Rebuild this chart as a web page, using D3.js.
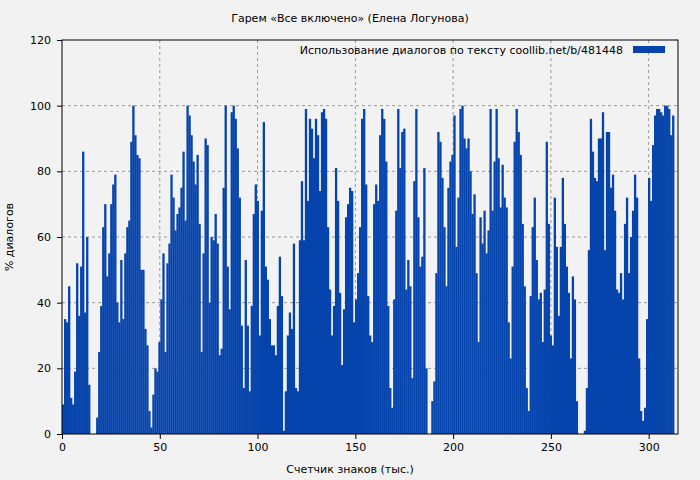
<!DOCTYPE html>
<html><head><meta charset="utf-8">
<script src="https://cdn.jsdelivr.net/npm/d3@7"></script>
<style>body{margin:0;background:#f2f2f2}text{font-family:"DejaVu Sans",sans-serif}</style>
</head><body><div id="chart"></div>
<script>
// % of dialogue per thousand characters
const part1 = [9,35,34,45,11,9,19,52,36,51,86,37,60,15,0,0,0,5,25,39,63,70,48,55,70,76,79,40,34,53,35,55,63,65,89,100,91,85,84,50,50,32,27,7,2,12,20,19,28,41,55,25,52,58,79,72,62,67,69,75,86,65,100,97,91,83,76,85,64,25,55,90,88,40,60,59]
const part2 = [67,58,24,26,75,100,51,38,98,100,96,87,72,33,14,53,33,13,39,67,76,71,30,68,95,51,47,35,27,27,24,39,54,42,1,13,30,37,32,58,14,13,59,77,59,99,71,96,93,84,96,91,74,98,99,96,63,44,30,39,81,71,43,21,38,66,70,75,74,34,41,49,63,96,99,76,42,30]
const part3 = [28,70,76,71,91,99,96,83,39,14,8,41,68,99,81,92,93,44,53,45,17,77,99,66,51,54,81,20,0,0,10,16,49,92,89,78,63,45,75,83,85,97,57,72,99,100,90,87,90,80,67,73,49,28,66,58,68,55,62,99,68,83,99,84,69,82,72,69,34,23,51,89,99,92,85,64,45]
const part4 = [14,7,42,63,72,53,41,43,28,44,89,64,30,27,72,57,36,57,78,64,51,43,23,48,41,10,0,0,0,1,14,56,96,86,78,77,90,90,98,56,92,92,75,79,68,44,43,49,41,64,72,49,60,68,79,72,23,7,4,8,35,78,71,88,97,99,99,98,97,100,100,99,91,97]
const values = [...part1, ...part2, ...part3, ...part4]
const xTicks = [0, 50, 100, 150, 200, 250, 300]
const yTicks = [0, 20, 40, 60, 80, 100, 120]
const xEnd = 313

const margin = {top: 40, right: 22, bottom: 46, left: 62}
const width = 700 - margin.left - margin.right
const height = 480 - margin.top - margin.bottom

const svg = d3.select('#chart').append('svg')
  .attr('width', 700).attr('height', 480)
  .style('background', '#f2f2f2')

const g = svg.append('g')
  .attr('transform', 'translate(' + margin.left + ',' + margin.top + ')')

const x = d3.scaleLinear().domain([0, 315]).range([0, width])
const y = d3.scaleLinear().domain([0, 120]).range([height, 0])
const band = d3.scaleBand().domain(d3.range(values.length)).range([x(0), x(xEnd)]).padding(0)

// grid
g.append('g').selectAll('line').data(yTicks.slice(1, -1)).enter().append('line')
  .attr('x1', 0).attr('x2', width)
  .attr('y1', d => y(d)).attr('y2', d => y(d))
  .attr('stroke', '#999').attr('stroke-dasharray', '3,3')
g.append('g').selectAll('line').data(xTicks.slice(1)).enter().append('line')
  .attr('y1', 0).attr('y2', height)
  .attr('x1', d => x(d)).attr('x2', d => x(d))
  .attr('stroke', '#999').attr('stroke-dasharray', '3,3')

g.selectAll('.bar').data(values).enter().append('rect')
  .attr('class', 'bar')
  .attr('fill', '#0644ad')
  .attr('x', (d, i) => band(i))
  .attr('width', band.bandwidth() + 0.3)
  .attr('y', d => y(d))
  .attr('height', d => height - y(d))

// frame
g.append('rect').attr('width', width).attr('height', height)
  .attr('fill', 'none').attr('stroke', '#000')

const xa = g.append('g').attr('transform', 'translate(0,' + height + ')')
  .call(d3.axisBottom(x).tickValues(xTicks).tickSize(5).tickPadding(4))
const ya = g.append('g')
  .call(d3.axisLeft(y).tickValues(yTicks).tickSize(5).tickPadding(6))
;[xa, ya].forEach(a => {
  a.select('.domain').remove()
  a.selectAll('text').style('font-size', '11px').attr('fill', '#000')
})

svg.append('text').attr('x', 350).attr('y', 22).attr('text-anchor', 'middle')
  .style('font-size', '11px').text('Гарем «Все включено» (Елена Логунова)')
svg.append('text').attr('x', 350).attr('y', 473).attr('text-anchor', 'middle')
  .style('font-size', '11px').text('Счетчик знаков (тыс.)')
svg.append('text').attr('transform', 'translate(13,237) rotate(-90)').attr('text-anchor', 'middle')
  .style('font-size', '11px').text('% диалогов')

// legend
svg.append('text').attr('x', 623).attr('y', 54).attr('text-anchor', 'end')
  .style('font-size', '11px').text('Использование диалогов по тексту  coollib.net/b/481448')
svg.append('rect').attr('x', 633).attr('y', 46).attr('width', 32).attr('height', 7).attr('fill', '#0644ad')
</script></body></html>
